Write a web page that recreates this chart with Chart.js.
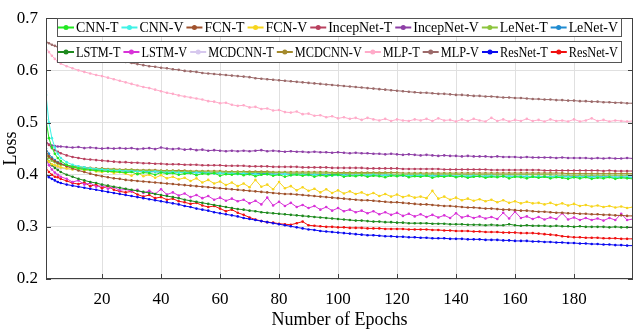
<!DOCTYPE html>
<html>
<head>
<meta charset="utf-8">
<script src="https://cdn.jsdelivr.net/npm/chart.js@4.4.1/dist/chart.umd.min.js"></script>
<style>
  body { margin: 0; background: #fff; }
  canvas { display: block; }
</style>
</head>
<body>
<canvas id="lossChart" width="640" height="333"></canvas>
<script>
const epochs = [1,2,3,4,5,6,
  8,10,12,14,16,18,20,22,24,26,
  28,30,32,34,36,38,40,42,44,46,
  48,50,52,54,56,58,60,62,64,66,
  68,70,72,74,76,78,80,82,84,86,
  88,90,92,94,96,98,100,102,104,106,
  108,110,112,114,116,118,120,122,124,126,
  128,130,132,134,136,138,140,142,144,146,
  148,150,152,154,156,158,160,162,164,166,
  168,170,172,174,176,178,180,182,184,186,
  188,190,192,194,196,198,200];

const xTicks = [20,40,60,80,100,120,140,160,180];
const yTicks = [0.2,0.3,0.4,0.5,0.6,0.7];

const seriesNames = ['CNN-T','CNN-V','FCN-T','FCN-V','IncepNet-T','IncepNet-V','LeNet-T','LeNet-V',
  'LSTM-T','LSTM-V','MCDCNN-T','MCDCNN-V','MLP-T','MLP-V','ResNet-T','ResNet-V'];
const seriesColors = ['#22e822','#3ff2e6','#a0522d','#f7d51d','#b8405e','#8e3fa6','#8cc43c','#1f8bd0',
  '#1e8a1e','#d832d8','#d6c8ee','#a48a2c','#ffabc9','#9c6a6a','#0a0af0','#f01010'];

const cnnT = [0.505,0.470,0.452,0.440,0.432,0.426,
  0.419,0.415,0.412,0.410,0.409,0.408,0.407,0.406,0.406,0.405,
  0.404,0.405,0.401,0.404,0.403,0.400,0.404,0.402,0.403,0.400,
  0.402,0.403,0.399,0.402,0.401,0.403,0.398,0.401,0.400,0.402,
  0.399,0.401,0.397,0.400,0.401,0.398,0.400,0.396,0.399,0.400,
  0.398,0.400,0.396,0.399,0.397,0.399,0.400,0.396,0.398,0.397,
  0.399,0.396,0.398,0.397,0.395,0.398,0.397,0.399,0.395,0.397,
  0.396,0.398,0.394,0.397,0.396,0.398,0.395,0.397,0.394,0.396,
  0.397,0.394,0.396,0.395,0.397,0.393,0.396,0.395,0.393,0.396,
  0.394,0.396,0.393,0.395,0.394,0.392,0.395,0.393,0.395,0.392,
  0.394,0.393,0.395,0.392,0.394,0.393,0.392];
const cnnV = [0.553,0.500,0.470,0.452,0.440,0.432,
  0.424,0.419,0.416,0.414,0.412,0.411,0.410,0.409,0.408,0.408,
  0.407,0.407,0.406,0.406,0.405,0.406,0.405,0.404,0.405,0.404,
  0.404,0.403,0.404,0.403,0.403,0.402,0.403,0.402,0.402,0.401,
  0.402,0.401,0.401,0.400,0.401,0.400,0.400,0.401,0.399,0.400,
  0.400,0.399,0.400,0.399,0.399,0.398,0.399,0.399,0.398,0.399,
  0.399,0.399,0.400,0.398,0.399,0.399,0.398,0.399,0.398,0.398,
  0.399,0.398,0.398,0.397,0.398,0.398,0.397,0.398,0.397,0.398,
  0.397,0.397,0.398,0.396,0.397,0.397,0.396,0.397,0.397,0.396,
  0.397,0.396,0.396,0.397,0.396,0.396,0.395,0.396,0.396,0.395,
  0.396,0.395,0.396,0.395,0.395,0.396,0.395];
const fcnT = [0.445,0.435,0.430,0.426,0.423,0.421,
  0.416,0.412,0.408,0.405,0.402,0.399,0.397,0.395,0.393,0.392,
  0.390,0.389,0.388,0.387,0.386,0.385,0.384,0.383,0.382,0.381,
  0.380,0.379,0.378,0.377,0.376,0.375,0.374,0.373,0.372,0.371,
  0.370,0.369,0.368,0.367,0.366,0.365,0.364,0.363,0.363,0.362,
  0.361,0.360,0.359,0.358,0.357,0.356,0.355,0.354,0.353,0.352,
  0.351,0.351,0.350,0.349,0.348,0.347,0.347,0.346,0.345,0.344,
  0.343,0.343,0.342,0.341,0.340,0.340,0.339,0.338,0.337,0.337,
  0.336,0.335,0.335,0.334,0.333,0.333,0.332,0.331,0.331,0.330,
  0.329,0.329,0.328,0.327,0.327,0.326,0.326,0.325,0.325,0.324,
  0.324,0.323,0.323,0.322,0.322,0.321,0.321];
const fcnV = [0.430,0.425,0.420,0.418,0.416,0.414,
  0.412,0.410,0.412,0.408,0.410,0.406,0.405,0.407,0.403,0.405,
  0.402,0.398,0.404,0.397,0.400,0.394,0.399,0.393,0.396,0.391,
  0.394,0.388,0.393,0.385,0.390,0.383,0.387,0.380,0.385,0.378,
  0.383,0.376,0.390,0.377,0.381,0.372,0.386,0.374,0.378,0.370,
  0.376,0.369,0.373,0.366,0.372,0.365,0.370,0.364,0.368,0.363,
  0.366,0.361,0.365,0.359,0.363,0.358,0.362,0.357,0.360,0.356,
  0.358,0.355,0.369,0.354,0.358,0.352,0.356,0.351,0.354,0.350,
  0.353,0.349,0.352,0.347,0.351,0.346,0.349,0.345,0.348,0.345,
  0.346,0.343,0.346,0.342,0.345,0.341,0.344,0.340,0.342,0.339,
  0.341,0.338,0.340,0.337,0.339,0.336,0.338];
const incepT = [0.465,0.457,0.451,0.447,0.444,0.441,
  0.437,0.434,0.432,0.430,0.429,0.428,0.427,0.426,0.425,0.424,
  0.424,0.423,0.423,0.422,0.422,0.421,0.421,0.420,0.420,0.420,
  0.419,0.419,0.419,0.418,0.418,0.418,0.418,0.417,0.417,0.417,
  0.417,0.416,0.416,0.416,0.416,0.415,0.415,0.415,0.415,0.415,
  0.414,0.414,0.414,0.414,0.414,0.413,0.413,0.413,0.413,0.413,
  0.413,0.412,0.412,0.412,0.412,0.412,0.412,0.411,0.411,0.411,
  0.411,0.411,0.411,0.411,0.410,0.410,0.410,0.410,0.410,0.410,
  0.410,0.410,0.409,0.409,0.409,0.409,0.409,0.409,0.409,0.409,
  0.409,0.408,0.408,0.408,0.408,0.408,0.408,0.408,0.408,0.408,
  0.408,0.407,0.408,0.407,0.407,0.407,0.407];
const incepV = [0.462,0.458,0.456,0.455,0.454,0.454,
  0.453,0.452,0.453,0.451,0.452,0.451,0.450,0.451,0.450,0.451,
  0.450,0.451,0.449,0.450,0.451,0.449,0.452,0.450,0.449,0.450,
  0.448,0.449,0.447,0.448,0.446,0.447,0.446,0.445,0.446,0.445,
  0.446,0.445,0.446,0.447,0.445,0.446,0.445,0.444,0.445,0.444,
  0.444,0.443,0.444,0.443,0.443,0.442,0.443,0.442,0.441,0.442,
  0.441,0.441,0.440,0.440,0.439,0.440,0.439,0.438,0.439,0.438,
  0.437,0.438,0.437,0.436,0.437,0.436,0.436,0.435,0.436,0.435,
  0.435,0.435,0.434,0.435,0.434,0.434,0.434,0.433,0.434,0.433,
  0.433,0.433,0.433,0.432,0.433,0.432,0.432,0.432,0.432,0.431,
  0.432,0.431,0.432,0.431,0.431,0.432,0.431];
const lenetT = [0.440,0.432,0.427,0.424,0.421,0.419,
  0.417,0.415,0.414,0.413,0.412,0.411,0.411,0.410,0.410,0.409,
  0.409,0.409,0.408,0.408,0.408,0.407,0.407,0.407,0.407,0.406,
  0.406,0.406,0.406,0.406,0.405,0.405,0.405,0.405,0.405,0.405,
  0.405,0.404,0.404,0.404,0.404,0.404,0.404,0.404,0.403,0.403,
  0.403,0.403,0.403,0.403,0.403,0.403,0.402,0.402,0.402,0.402,
  0.402,0.402,0.402,0.402,0.402,0.401,0.401,0.401,0.401,0.401,
  0.401,0.401,0.401,0.401,0.401,0.401,0.401,0.400,0.400,0.400,
  0.400,0.400,0.400,0.400,0.400,0.400,0.400,0.400,0.400,0.400,
  0.400,0.400,0.400,0.399,0.399,0.399,0.399,0.399,0.399,0.399,
  0.399,0.399,0.399,0.399,0.399,0.399,0.399];
const lenetV = [0.450,0.440,0.433,0.428,0.424,0.421,
  0.418,0.415,0.413,0.412,0.411,0.410,0.409,0.409,0.408,0.408,
  0.407,0.407,0.407,0.406,0.406,0.406,0.405,0.405,0.405,0.405,
  0.404,0.404,0.404,0.404,0.403,0.403,0.403,0.403,0.403,0.402,
  0.402,0.402,0.402,0.402,0.402,0.401,0.401,0.401,0.401,0.401,
  0.401,0.400,0.400,0.400,0.400,0.400,0.400,0.400,0.399,0.399,
  0.399,0.399,0.399,0.399,0.399,0.399,0.398,0.398,0.398,0.398,
  0.398,0.398,0.398,0.398,0.398,0.398,0.397,0.397,0.397,0.397,
  0.397,0.397,0.397,0.397,0.397,0.397,0.397,0.397,0.396,0.396,
  0.396,0.396,0.396,0.396,0.396,0.396,0.396,0.396,0.396,0.396,
  0.396,0.396,0.396,0.395,0.396,0.395,0.395];
const lstmT = [0.435,0.425,0.418,0.413,0.409,0.405,
  0.400,0.396,0.392,0.389,0.386,0.384,0.381,0.379,0.377,0.375,
  0.373,0.371,0.369,0.367,0.365,0.363,0.361,0.359,0.357,0.355,
  0.352,0.350,0.348,0.346,0.344,0.342,0.340,0.338,0.336,0.334,
  0.333,0.331,0.330,0.328,0.327,0.326,0.325,0.324,0.323,0.322,
  0.321,0.320,0.319,0.318,0.317,0.316,0.315,0.314,0.313,0.312,
  0.312,0.311,0.310,0.310,0.309,0.309,0.308,0.308,0.307,0.307,
  0.307,0.307,0.306,0.306,0.306,0.305,0.305,0.305,0.304,0.304,
  0.304,0.303,0.304,0.303,0.303,0.305,0.303,0.302,0.303,0.302,
  0.302,0.302,0.301,0.302,0.301,0.301,0.300,0.301,0.300,0.300,
  0.300,0.300,0.299,0.300,0.299,0.299,0.299];
const lstmV = [0.430,0.418,0.410,0.404,0.400,0.396,
  0.392,0.386,0.389,0.381,0.384,0.377,0.379,0.373,0.376,0.370,
  0.372,0.368,0.371,0.365,0.369,0.363,0.372,0.362,0.366,0.360,
  0.364,0.357,0.361,0.355,0.359,0.352,0.356,0.350,0.354,0.349,
  0.352,0.345,0.350,0.343,0.356,0.341,0.348,0.340,0.346,0.338,
  0.342,0.336,0.340,0.333,0.338,0.331,0.336,0.330,0.333,0.328,
  0.331,0.326,0.330,0.324,0.328,0.323,0.327,0.321,0.325,0.320,
  0.324,0.319,0.323,0.318,0.322,0.317,0.326,0.318,0.321,0.317,
  0.320,0.316,0.319,0.315,0.327,0.316,0.329,0.317,0.320,0.315,
  0.319,0.314,0.318,0.315,0.326,0.314,0.318,0.313,0.317,0.313,
  0.316,0.312,0.317,0.313,0.325,0.313,0.315];
const mcdT = [0.425,0.420,0.417,0.415,0.413,0.412,
  0.411,0.410,0.409,0.409,0.408,0.408,0.407,0.407,0.407,0.406,
  0.406,0.406,0.406,0.405,0.405,0.405,0.405,0.405,0.404,0.404,
  0.404,0.404,0.404,0.404,0.404,0.403,0.403,0.403,0.403,0.403,
  0.403,0.403,0.403,0.403,0.402,0.402,0.402,0.402,0.402,0.402,
  0.402,0.402,0.402,0.402,0.402,0.401,0.401,0.401,0.401,0.401,
  0.401,0.401,0.401,0.401,0.401,0.401,0.401,0.401,0.401,0.400,
  0.400,0.400,0.400,0.400,0.400,0.400,0.400,0.400,0.400,0.400,
  0.400,0.400,0.400,0.400,0.400,0.400,0.400,0.400,0.400,0.400,
  0.400,0.400,0.400,0.400,0.399,0.399,0.399,0.399,0.399,0.399,
  0.399,0.399,0.399,0.399,0.399,0.399,0.399];
const mcdV = [0.440,0.433,0.428,0.425,0.422,0.420,
  0.418,0.416,0.415,0.414,0.413,0.412,0.412,0.411,0.411,0.410,
  0.410,0.410,0.409,0.409,0.409,0.409,0.408,0.408,0.408,0.408,
  0.408,0.407,0.407,0.407,0.407,0.407,0.407,0.406,0.406,0.406,
  0.406,0.406,0.406,0.406,0.406,0.405,0.405,0.405,0.405,0.405,
  0.405,0.405,0.405,0.405,0.405,0.404,0.404,0.404,0.404,0.404,
  0.404,0.404,0.404,0.404,0.404,0.404,0.404,0.403,0.403,0.403,
  0.403,0.403,0.403,0.403,0.403,0.403,0.403,0.403,0.403,0.403,
  0.403,0.403,0.403,0.403,0.403,0.403,0.403,0.403,0.403,0.403,
  0.403,0.403,0.403,0.403,0.403,0.402,0.402,0.402,0.402,0.402,
  0.402,0.402,0.402,0.402,0.402,0.402,0.402];
const mlpT = [0.643,0.635,0.628,0.622,0.617,0.613,
  0.608,0.604,0.600,0.597,0.594,0.591,0.589,0.586,0.583,0.580,
  0.577,0.574,0.571,0.568,0.566,0.563,0.560,0.557,0.555,0.552,
  0.550,0.548,0.546,0.544,0.541,0.540,0.537,0.538,0.534,0.532,
  0.533,0.529,0.530,0.526,0.527,0.523,0.524,0.520,0.519,0.521,
  0.516,0.517,0.513,0.514,0.510,0.512,0.508,0.510,0.507,0.509,
  0.505,0.509,0.506,0.504,0.507,0.503,0.506,0.504,0.503,0.506,
  0.504,0.507,0.503,0.508,0.504,0.505,0.502,0.506,0.503,0.507,
  0.504,0.502,0.509,0.503,0.506,0.502,0.505,0.503,0.507,0.503,
  0.505,0.502,0.506,0.503,0.504,0.502,0.506,0.502,0.504,0.508,
  0.503,0.505,0.502,0.504,0.503,0.502,0.503];
const mlpV = [0.655,0.652,0.649,0.647,0.645,0.643,
  0.640,0.637,0.634,0.631,0.629,0.626,0.624,0.622,0.620,0.618,
  0.616,0.614,0.612,0.610,0.608,0.607,0.605,0.604,0.602,0.601,
  0.599,0.598,0.597,0.595,0.594,0.593,0.592,0.591,0.590,0.589,
  0.588,0.587,0.585,0.584,0.583,0.582,0.581,0.580,0.579,0.578,
  0.577,0.576,0.575,0.574,0.573,0.572,0.571,0.570,0.569,0.568,
  0.567,0.566,0.565,0.564,0.563,0.562,0.561,0.560,0.559,0.558,
  0.557,0.557,0.556,0.555,0.555,0.554,0.553,0.553,0.552,0.551,
  0.551,0.550,0.550,0.549,0.548,0.548,0.547,0.547,0.546,0.545,
  0.545,0.544,0.544,0.543,0.543,0.542,0.542,0.541,0.541,0.540,
  0.540,0.539,0.539,0.538,0.538,0.537,0.537];
const resT = [0.400,0.395,0.392,0.389,0.386,0.384,
  0.381,0.379,0.377,0.375,0.373,0.371,0.369,0.367,0.365,0.363,
  0.361,0.359,0.357,0.355,0.353,0.351,0.349,0.347,0.345,0.343,
  0.340,0.338,0.335,0.333,0.331,0.328,0.326,0.324,0.322,0.320,
  0.317,0.315,0.313,0.311,0.309,0.307,0.305,0.303,0.301,0.299,
  0.297,0.295,0.294,0.292,0.291,0.290,0.289,0.288,0.287,0.286,
  0.285,0.284,0.284,0.283,0.282,0.282,0.281,0.281,0.280,0.280,
  0.279,0.279,0.278,0.278,0.278,0.277,0.277,0.277,0.276,0.276,
  0.276,0.275,0.275,0.275,0.274,0.274,0.273,0.273,0.273,0.272,
  0.272,0.271,0.271,0.270,0.270,0.269,0.269,0.268,0.268,0.267,
  0.267,0.266,0.266,0.265,0.265,0.264,0.264];
const resV = [0.413,0.405,0.400,0.396,0.395,0.392,
  0.388,0.384,0.382,0.385,0.378,0.381,0.374,0.378,0.371,0.368,
  0.366,0.368,0.362,0.358,0.361,0.355,0.357,0.352,0.354,0.349,
  0.347,0.344,0.346,0.341,0.338,0.340,0.335,0.330,0.333,0.327,
  0.323,0.318,0.314,0.311,0.309,0.308,0.306,0.305,0.304,0.307,
  0.310,0.303,0.302,0.301,0.300,0.300,0.299,0.299,0.298,0.298,
  0.298,0.297,0.297,0.297,0.296,0.296,0.296,0.296,0.295,0.295,
  0.295,0.295,0.294,0.294,0.293,0.293,0.292,0.292,0.292,0.291,
  0.291,0.290,0.290,0.290,0.289,0.289,0.289,0.288,0.288,0.288,
  0.287,0.286,0.285,0.284,0.282,0.281,0.280,0.280,0.279,0.279,
  0.279,0.278,0.278,0.278,0.277,0.277,0.277];

const seriesValues = [cnnT, cnnV, fcnT, fcnV, incepT, incepV, lenetT, lenetV,
  lstmT, lstmV, mcdT, mcdV, mlpT, mlpV, resT, resV];

const serif = '"Liberation Serif", "Times New Roman", serif';

// box, inward ticks and the two framed legend rows (drawn over the lines like in matlab)
const frameAndLegend = {
  id: 'frameAndLegend',
  afterDatasetsDraw(chart) {
    const ctx = chart.ctx;
    const a = chart.chartArea;
    const sx = chart.scales.x, sy = chart.scales.y;
    ctx.save();

    ctx.strokeStyle = '#404040';
    ctx.lineWidth = 1;
    ctx.beginPath();
    xTicks.forEach(v => {
      const px = Math.round(sx.getPixelForValue(v)) + 0.5;
      ctx.moveTo(px, a.bottom); ctx.lineTo(px, a.bottom - 5);
      ctx.moveTo(px, a.top); ctx.lineTo(px, a.top + 5);
    });
    yTicks.forEach(v => {
      const py = Math.round(sy.getPixelForValue(v)) + 0.5;
      ctx.moveTo(a.left, py); ctx.lineTo(a.left + 5, py);
      ctx.moveTo(a.right, py); ctx.lineTo(a.right - 5, py);
    });
    ctx.stroke();
    ctx.strokeRect(Math.round(a.left) + 0.5, Math.round(a.top) + 0.5,
      Math.round(a.right - a.left) - 1, Math.round(a.bottom - a.top) - 1);

    const rows = [{ top: 18, h: 18, items: [0,1,2,3,4,5,6,7] },
                  { top: 41, h: 21, items: [8,9,10,11,12,13,14,15] }];
    const x0 = 57, x1 = 621, sample = 16, minGap = 3;
    ctx.font = '14px ' + serif;
    ctx.textBaseline = 'middle';
    rows.forEach(row => {
      ctx.fillStyle = '#fff';
      ctx.fillRect(x0, row.top, x1 - x0, row.h);
      ctx.strokeStyle = '#555';
      ctx.lineWidth = 1;
      ctx.strokeRect(x0 + 0.5, row.top + 0.5, x1 - x0, row.h);
      const n = row.items.length;
      const textW = row.items.map(i => ctx.measureText(chart.data.datasets[i].label).width);
      const totalText = textW.reduce((s, w) => s + w, 0);
      const room = x1 - x0 - 4 - n * (sample + 2) - (n - 1) * minGap;
      const squeeze = Math.min(1, room / totalText);
      const widths = textW.map(w => sample + 2 + w * squeeze);
      const gap = (x1 - x0 - 4 - widths.reduce((s, w) => s + w, 0)) / (n - 1);
      let x = x0 + 1;
      const cy = row.top + row.h / 2 + 0.5;
      row.items.forEach((i, k) => {
        const ds = chart.data.datasets[i];
        ctx.strokeStyle = ds.borderColor;
        ctx.lineWidth = 2;
        ctx.beginPath();
        ctx.moveTo(x, cy); ctx.lineTo(x + sample, cy);
        ctx.stroke();
        ctx.fillStyle = ds.borderColor;
        ctx.beginPath();
        ctx.arc(x + sample / 2, cy, 2.5, 0, Math.PI * 2);
        ctx.fill();
        ctx.fillStyle = '#000';
        ctx.fillText(ds.label, x + sample + 2, cy + 1, textW[k] * squeeze);
        x += widths[k] + gap;
      });
    });
    ctx.restore();
  }
};

const datasets = seriesNames.map((name, i) => ({
  label: name,
  data: epochs.map((e, k) => ({ x: e, y: seriesValues[i][k] })),
  borderColor: seriesColors[i],
  backgroundColor: seriesColors[i],
  borderWidth: 1,
  pointRadius: 1.3,
  pointBorderWidth: 0,
  tension: 0
}));

new Chart(document.getElementById('lossChart'), {
  type: 'line',
  data: { datasets: datasets },
  options: {
    responsive: false,
    animation: false,
    devicePixelRatio: 1,
    layout: { padding: { top: 7, right: 7, left: 0, bottom: 0 } },
    plugins: { legend: { display: false }, tooltip: { enabled: false } },
    scales: {
      x: {
        type: 'linear', min: 1, max: 200,
        afterBuildTicks: s => { s.ticks = xTicks.map(v => ({ value: v })); },
        afterFit: s => { s.height = 54; },
        grid: { color: '#e0e0e0', drawTicks: false },
        border: { display: false },
        ticks: { color: '#000', font: { family: serif, size: 17 }, padding: 10, maxRotation: 0 },
        title: { display: true, text: 'Number of Epochs', color: '#000',
          font: { family: serif, size: 18 }, padding: { top: 0, bottom: 2 } }
      },
      y: {
        min: 0.2, max: 0.7,
        afterBuildTicks: s => { s.ticks = yTicks.map(v => ({ value: v })); },
        afterFit: s => { s.width = 46; },
        grid: { color: '#e0e0e0', drawTicks: false },
        border: { display: false },
        ticks: { color: '#000', font: { family: serif, size: 17 }, padding: 8,
          callback: v => v.toFixed(1) },
        title: { display: true, text: 'Loss', color: '#000',
          font: { family: serif, size: 18 }, padding: { top: 0, bottom: 0 } }
      }
    }
  },
  plugins: [frameAndLegend]
});
</script>
</body>
</html>
